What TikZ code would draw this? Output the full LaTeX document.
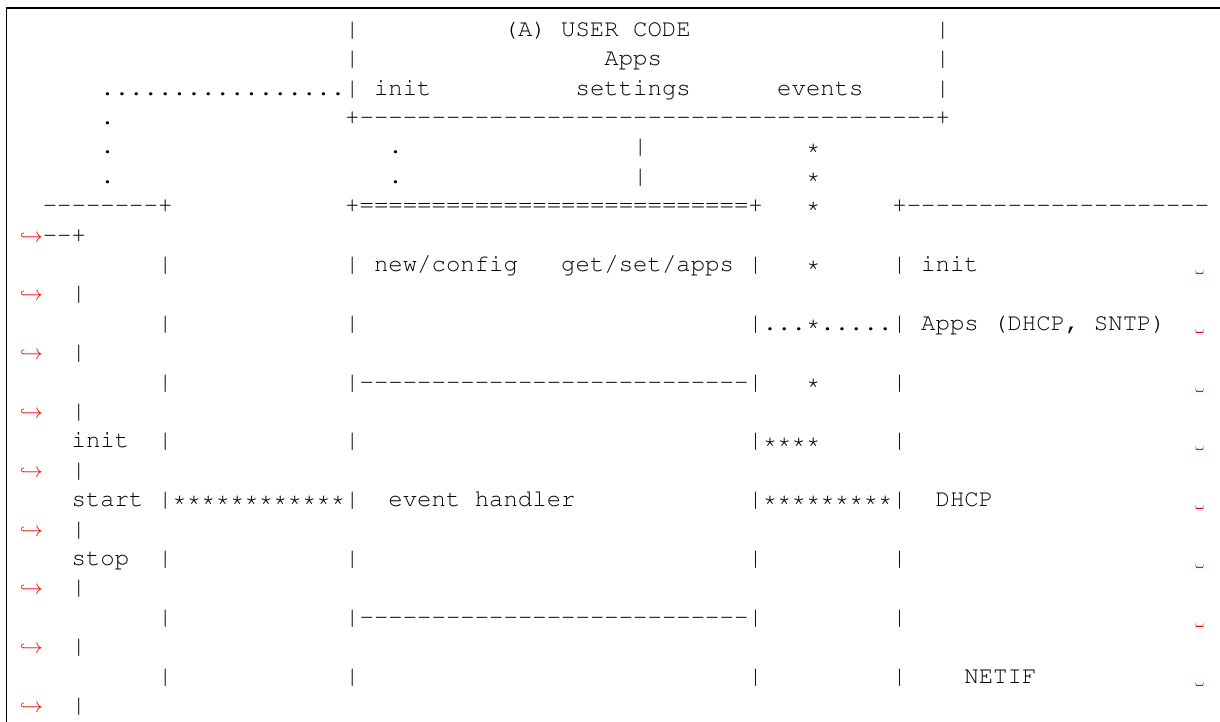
\documentclass[tikz,border=0pt]{standalone}
\usepackage[T1]{fontenc}
\usepackage{courier}
\frenchspacing
\newcommand{\charrun}[2]{\foreach \k in {1,...,#1}{#2}}
\tikzset{
  txt/.style={anchor=base west, inner sep=0pt, outer sep=0pt,
    font=\ttfamily\fontsize{24}{29.4}\selectfont},
  brk/.style={anchor=base east, inner sep=0pt, outer sep=0pt, text=red,
    font=\fontsize{20.74}{20.74}\selectfont},
  vis/.style={anchor=base west, inner sep=0pt, outer sep=0pt, text=red,
    font=\fontfamily{lmtt}\fontsize{24}{29.4}\selectfont},
  frameline/.style={line width=1.2pt}
}

\begin{document}
\begin{tikzpicture}[x=14.4pt,y=-29.4pt]
\useasboundingbox (-14pt,6.9pt) rectangle (1206pt,-715.1pt);
\draw[frameline] (-7.5pt,-716pt) -- (-7.5pt,-1.1pt) -- (1207pt,-1.1pt);

% user code
\node[txt] (ual) at (23,1) {|};
\node[txt] (usercode) at (34,1) {(A) USER CODE};
\node[txt] (uar) at (64,1) {|};
\node[txt] (ubl) at (23,2) {|};
\node[txt] (uapps) at (41,2) {Apps};
\node[txt] (ubr) at (64,2) {|};
\node[txt] (dotrun) at (6,3) {\charrun{17}{.}};
\node[txt] (ucl) at (23,3) {|};
\node[txt] (uinit) at (25,3) {init};
\node[txt] (usettings) at (39,3) {settings};
\node[txt] (uevents) at (53,3) {events};
\node[txt] (ucr) at (64,3) {|};
\node[txt] (dotd) at (6,4) {.};
\node[txt] (ubottom) at (23,4) {+\charrun{40}{-}+};
\node[txt] (dote) at (6,5) {.};
\node[txt] (initdote) at (26,5) {.};
\node[txt] (setbare) at (43,5) {|};
\node[txt] (evstare) at (55,5) {*};
\node[txt] (dotf) at (6,6) {.};
\node[txt] (initdotf) at (26,6) {.};
\node[txt] (setbarf) at (43,6) {|};
\node[txt] (evstarf) at (55,6) {*};

% tops of the three boxes
\node[txt] (btop) at (2,7) {\charrun{8}{-}+};
\node[txt] (ctop) at (23,7) {+\charrun{27}{=}+};
\node[txt] (evstarg) at (55,7) {*};
\node[txt] (dtop) at (61,7) {+\charrun{21}{-}};
\node[brk] (brk8) at (2,8) {$\hookrightarrow$};
\node[txt] (dtopend) at (2,8) {\charrun{2}{-}+};

% row: new/config
\node[txt] (bbar9) at (10,9) {|};
\node[txt] (cbar9) at (23,9) {|};
\node[txt] (newconfig) at (25,9) {new/config};
\node[txt] (getset) at (38,9) {get/set/apps};
\node[txt] (cend9) at (51,9) {|};
\node[txt] (evstar9) at (55,9) {*};
\node[txt] (dbar9) at (61,9) {|};
\node[txt] (dinit) at (63,9) {init};
\node[vis] (vis9) at (82,9) {\textvisiblespace};
\node[brk] (brk10) at (2,10) {$\hookrightarrow$};
\node[txt] (dend10) at (4,10) {|};

% row: apps
\node[txt] (bbar11) at (10,11) {|};
\node[txt] (cbar11) at (23,11) {|};
\node[txt] (appslink) at (51,11) {|...*.....|};
\node[txt] (dapps) at (63,11) {Apps (DHCP, SNTP)};
\node[vis] (vis11) at (82,11) {\textvisiblespace};
\node[brk] (brk12) at (2,12) {$\hookrightarrow$};
\node[txt] (dend12) at (4,12) {|};

% row: upper rule
\node[txt] (bbar13) at (10,13) {|};
\node[txt] (crule13) at (23,13) {|\charrun{27}{-}|};
\node[txt] (evstar13) at (55,13) {*};
\node[txt] (dbar13) at (61,13) {|};
\node[vis] (vis13) at (82,13) {\textvisiblespace};
\node[brk] (brk14) at (2,14) {$\hookrightarrow$};
\node[txt] (dend14) at (4,14) {|};

% row: init
\node[txt] (binit) at (4,15) {init};
\node[txt] (bbar15) at (10,15) {|};
\node[txt] (cbar15) at (23,15) {|};
\node[txt] (evhook) at (51,15) {|****};
\node[txt] (dbar15) at (61,15) {|};
\node[vis] (vis15) at (82,15) {\textvisiblespace};
\node[brk] (brk16) at (2,16) {$\hookrightarrow$};
\node[txt] (dend16) at (4,16) {|};

% row: start
\node[txt] (bstart) at (4,17) {start};
\node[txt] (startlink) at (10,17) {|\charrun{12}{*}|};
\node[txt] (evhandler) at (26,17) {event handler};
\node[txt] (dhcplink) at (51,17) {|\charrun{9}{*}|};
\node[txt] (ddhcp) at (64,17) {DHCP};
\node[vis] (vis17) at (82,17) {\textvisiblespace};
\node[brk] (brk18) at (2,18) {$\hookrightarrow$};
\node[txt] (dend18) at (4,18) {|};

% row: stop
\node[txt] (bstop) at (4,19) {stop};
\node[txt] (bbar19) at (10,19) {|};
\node[txt] (cbar19) at (23,19) {|};
\node[txt] (cend19) at (51,19) {|};
\node[txt] (dbar19) at (61,19) {|};
\node[vis] (vis19) at (82,19) {\textvisiblespace};
\node[brk] (brk20) at (2,20) {$\hookrightarrow$};
\node[txt] (dend20) at (4,20) {|};

% row: lower rule
\node[txt] (bbar21) at (10,21) {|};
\node[txt] (crule21) at (23,21) {|\charrun{27}{-}|};
\node[txt] (dbar21) at (61,21) {|};
\node[vis] (vis21) at (82,21) {\textvisiblespace};
\node[brk] (brk22) at (2,22) {$\hookrightarrow$};
\node[txt] (dend22) at (4,22) {|};

% row: netif
\node[txt] (bbar23) at (10,23) {|};
\node[txt] (cbar23) at (23,23) {|};
\node[txt] (cend23) at (51,23) {|};
\node[txt] (dbar23) at (61,23) {|};
\node[txt] (dnetif) at (66,23) {NETIF};
\node[vis] (vis23) at (82,23) {\textvisiblespace};
\node[brk] (brk24) at (2,24) {$\hookrightarrow$};
\node[txt] (dend24) at (4,24) {|};

\end{tikzpicture}
\end{document}
